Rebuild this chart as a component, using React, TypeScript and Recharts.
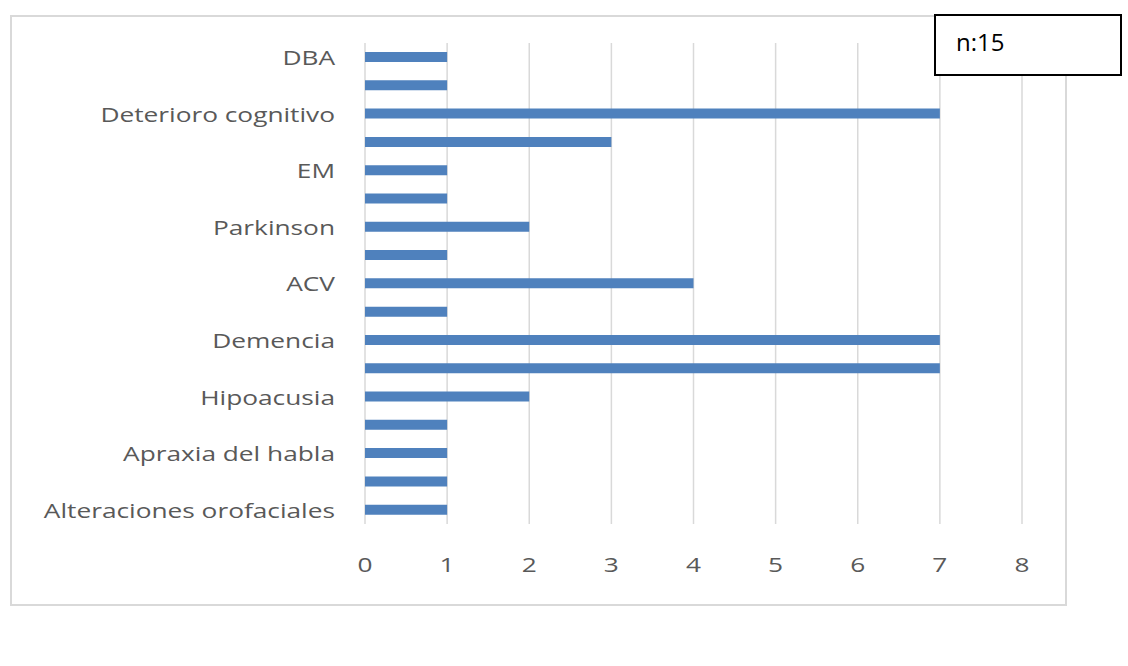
import React from "react";
import { BarChart, Bar, XAxis, YAxis, CartesianGrid } from "recharts";

// labels Excel skipped are unreadable, left empty
const categories = [
  "DBA",
  "",
  "Deterioro cognitivo",
  "",
  "EM",
  "",
  "Parkinson",
  "",
  "ACV",
  "",
  "Demencia",
  "",
  "Hipoacusia",
  "",
  "Apraxia del habla",
  "",
  "Alteraciones orofaciales",
];
const counts = [1, 1, 7, 3, 1, 1, 2, 1, 4, 1, 7, 7, 2, 1, 1, 1, 1];
const xTicks = [0, 1, 2, 3, 4, 5, 6, 7, 8];
const sampleNote = "n:15";

const data = categories.map((label, i) => ({ id: i, label, value: counts[i] }));

const FONT = "'Open Sans', 'DejaVu Sans', sans-serif";
const STRETCH = 1.34;

const CatTick = (props: any) => {
  const { x, y, payload } = props;
  const label = categories[payload.value] ?? "";
  return (
    <g transform={`translate(${x},${y + 1})`}>
      <text
        transform={`scale(${STRETCH},1)`}
        x={0}
        y={0}
        dy="0.35em"
        textAnchor="end"
        fill="#595959"
        fontSize={19.6}
        fontFamily={FONT}
      >
        {label}
      </text>
    </g>
  );
};

const NumTick = (props: any) => {
  const { x, y, payload } = props;
  return (
    <g transform={`translate(${x},${y})`}>
      <text
        transform={`scale(${STRETCH},1)`}
        x={0}
        y={0}
        dy="0.71em"
        textAnchor="middle"
        fill="#595959"
        fontSize={19.6}
        fontFamily={FONT}
      >
        {payload.value}
      </text>
    </g>
  );
};

export default function App() {
  return (
    <div style={{ position: "absolute", left: 0, top: 0, width: 1128, height: 666, background: "#fff" }}>
      <div
        style={{
          position: "absolute",
          left: 10,
          top: 15,
          width: 1057,
          height: 591,
          border: "2px solid #d9d9d9",
          boxSizing: "border-box",
        }}
      />
      <BarChart
        width={1128}
        height={666}
        data={data}
        layout="vertical"
        margin={{ top: 43, right: 106, bottom: 0, left: 0 }}
      >
        <CartesianGrid horizontal={false} stroke="#d9d9d9" strokeWidth={1.5} />
        <XAxis
          type="number"
          domain={[0, 8]}
          ticks={xTicks}
          axisLine={false}
          tickLine={false}
          tickSize={0}
          tickMargin={34}
          height={142}
          tick={<NumTick />}
        />
        <YAxis
          type="category"
          dataKey="id"
          width={365}
          interval={0}
          axisLine={false}
          tickLine={false}
          tickSize={0}
          tickMargin={30}
          tick={<CatTick />}
        />
        <Bar dataKey="value" fill="#4f81bd" barSize={10} isAnimationActive={false} />
      </BarChart>
      <div
        style={{
          position: "absolute",
          left: 934,
          top: 14,
          width: 188,
          height: 62,
          border: "2px solid #000",
          boxSizing: "border-box",
          background: "#fff",
        }}
      >
        <span
          style={{
            position: "absolute",
            left: 20,
            top: 10,
            fontFamily: FONT,
            fontSize: 24,
            lineHeight: "32px",
            color: "#000",
          }}
        >
          {sampleNote}
        </span>
      </div>
    </div>
  );
}
